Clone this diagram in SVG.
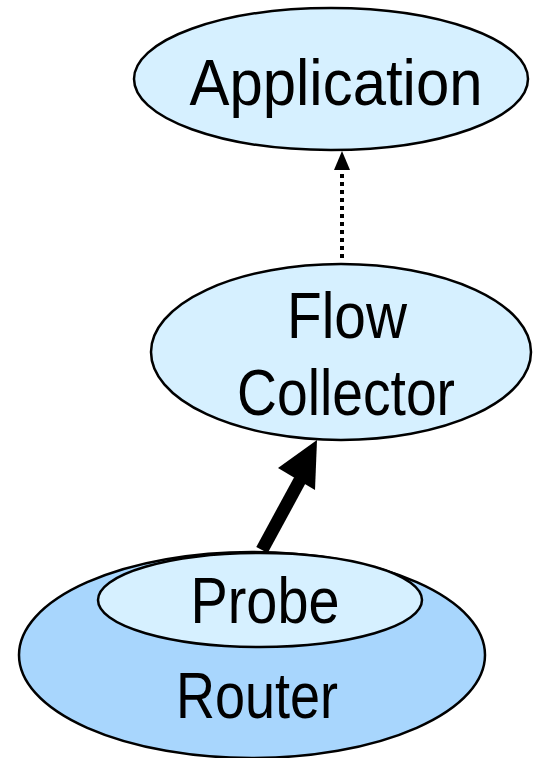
<svg xmlns="http://www.w3.org/2000/svg" width="533" height="758" viewBox="0 0 533 758">
<style>
.light{fill:#d6f0ff;stroke:#000;stroke-width:2.5}
.dark{fill:#a8d6fd;stroke:#000;stroke-width:2.5}
.lbl{font-family:"Liberation Sans",Arial,sans-serif;font-size:64px;fill:#000;text-anchor:middle}
</style>
<g id="router">
<ellipse class="dark" cx="252" cy="655" rx="233" ry="103"/>
<text class="lbl" x="257" y="718" textLength="162" lengthAdjust="spacingAndGlyphs">Router</text>
</g>
<g id="probe">
<ellipse class="light" cx="260" cy="600" rx="162" ry="47"/>
<text class="lbl" x="265" y="623" textLength="149" lengthAdjust="spacingAndGlyphs">Probe</text>
</g>
<g id="collector">
<ellipse class="light" cx="341" cy="352" rx="190" ry="88"/>
<text class="lbl" x="347" y="338" textLength="120" lengthAdjust="spacingAndGlyphs">Flow</text>
<text class="lbl" x="346" y="415" textLength="218" lengthAdjust="spacingAndGlyphs">Collector</text>
</g>
<g id="application">
<ellipse class="light" cx="331" cy="79" rx="197" ry="71"/>
<text class="lbl" x="336" y="105" textLength="293" lengthAdjust="spacingAndGlyphs">Application</text>
</g>
<g id="connectors">
<line x1="342" y1="258" x2="342" y2="170" stroke="#000" stroke-width="4" stroke-dasharray="4 4"/>
<path d="M342,151 L350,170 L334,170 Z" fill="#000"/>
<line x1="262" y1="550" x2="300" y2="480" stroke="#000" stroke-width="13"/>
<path d="M317,440 L315,490 L278,468 Z" fill="#000"/>
</g>
</svg>
